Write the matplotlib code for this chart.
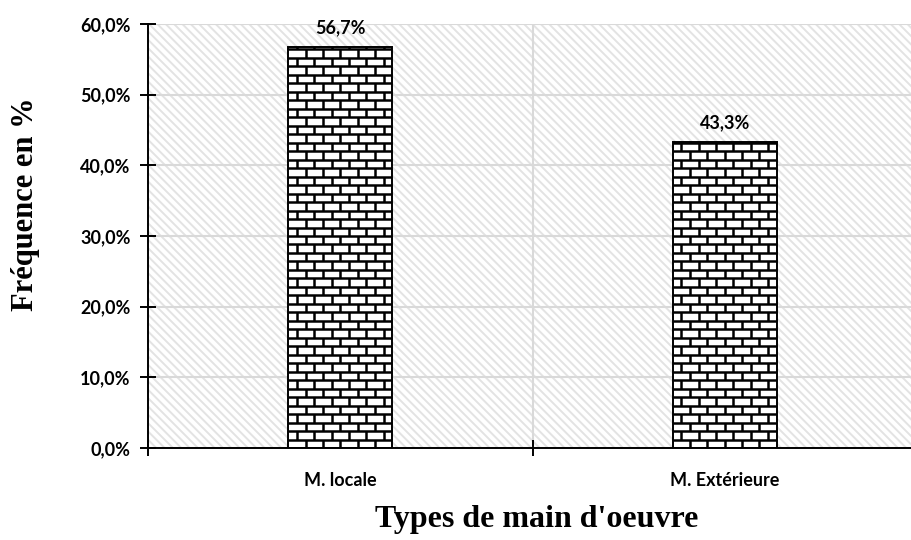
import numpy as np
import matplotlib
matplotlib.use("Agg")
import matplotlib.pyplot as plt
from matplotlib.patches import Rectangle
from matplotlib.collections import LineCollection
from matplotlib.ticker import FixedLocator, FuncFormatter

# donnees
categories = ["M. locale", "M. Extérieure"]
valeurs = [56.7, 43.3]
yticks = [0, 10, 20, 30, 40, 50, 60]

def pourcent(v, pos=None):
    return f"{v:.1f}%".replace(".", ",")

plt.rcParams["hatch.linewidth"] = 1.4

fig = plt.figure(figsize=(9.11, 5.40), dpi=100)
ax = fig.add_axes([148 / 911, 92 / 540, 769 / 911, 424 / 540])

# fond hachure gris clair
ax.set_facecolor("white")
fond = Rectangle((0, 0), 1, 1, transform=ax.transAxes, facecolor="white",
                 edgecolor="#e3e3e3", hatch="\\\\\\\\", linewidth=0, zorder=0)
ax.add_patch(fond)

x = np.arange(len(categories))
largeur = 0.27
barres = ax.bar(x, valeurs, width=largeur, color="white", edgecolor="black",
                linewidth=1.4, zorder=3)

# motif briques dans chaque barre
h_brique = 1.2
for b in barres:
    x0, w, hauteur = b.get_x(), b.get_width(), b.get_height()
    l_brique = w / 6
    segs = []
    n_rangs = int(np.ceil(hauteur / h_brique))
    for i in range(n_rangs + 1):
        y = i * h_brique
        segs.append([(x0, y), (x0 + w, y)])
        if i < n_rangs:
            decal = 0 if i % 2 == 0 else l_brique / 2
            for k in range(8):
                xv = x0 + decal + k * l_brique
                if x0 < xv < x0 + w:
                    segs.append([(xv, y), (xv, y + h_brique)])
    lc = LineCollection(segs, colors="black", linewidths=1.8, zorder=4)
    ax.add_collection(lc)
    lc.set_clip_path(b)
    ax.annotate(pourcent(hauteur), (b.get_x() + w / 2, hauteur),
                xytext=(0, 8), textcoords="offset points", ha="center",
                va="bottom", fontsize=13, fontweight="bold", family="Lato")

ax.set_xlim(-0.5, 1.5)
ax.set_ylim(0, 60)

# axes et grilles
ax.yaxis.set_major_locator(FixedLocator(yticks))
ax.yaxis.set_major_formatter(FuncFormatter(pourcent))
ax.xaxis.set_major_locator(FixedLocator([-0.5, 0.5, 1.5]))
ax.xaxis.set_major_formatter(FuncFormatter(lambda v, p: ""))
ax.xaxis.set_minor_locator(FixedLocator(x))
ax.xaxis.set_minor_formatter(FuncFormatter(lambda v, p: categories[int(round(v))]))
ax.tick_params(axis="x", which="minor", length=0, pad=17)
ax.tick_params(axis="both", which="major", direction="inout", length=11,
               width=1.4, color="black")
ax.tick_params(axis="y", pad=7)
for lab in ax.get_yticklabels() + ax.get_xticklabels(minor=True):
    lab.set_fontfamily("Lato")
    lab.set_fontweight("bold")
    lab.set_fontsize(13)

ax.grid(True, axis="both", which="major", color="#d9d9d9", linewidth=1.5, zorder=1)
ax.set_axisbelow(True)
for s in ["top", "right"]:
    ax.spines[s].set_visible(False)
for s in ["left", "bottom"]:
    ax.spines[s].set_linewidth(1.4)
    ax.spines[s].set_zorder(5)

fig.text(0.028, 1 - 204 / 540, "Fréquence en %", rotation=90, ha="center", va="center",
         fontsize=22, fontweight="bold", family="Liberation Serif")
fig.text(537 / 911, 1 - 520 / 540, "Types de main d'oeuvre", ha="center", va="center",
         fontsize=23, fontweight="bold", family="Liberation Serif")

fig.savefig("out.png", dpi=100)
